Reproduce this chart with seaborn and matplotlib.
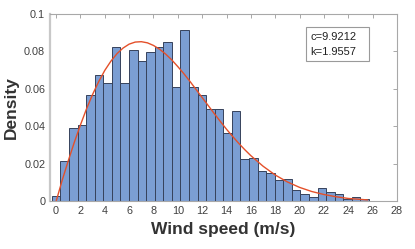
import numpy as np
import pandas as pd
import seaborn as sns
import matplotlib
matplotlib.use("Agg")
import matplotlib.pyplot as plt
from matplotlib.patches import Rectangle

# ---- data ----
bin_start = -0.35
bin_width = 0.704
densities = [0.003, 0.0215, 0.039, 0.0409, 0.0567, 0.0676, 0.0631, 0.0824,
             0.0631, 0.0808, 0.0751, 0.0797, 0.0824, 0.085, 0.061, 0.0916,
             0.061, 0.0567, 0.0493, 0.0493, 0.0364, 0.0482, 0.0225, 0.0234,
             0.0161, 0.0151, 0.0113, 0.0122, 0.0061, 0.004, 0.0024, 0.0074,
             0.0049, 0.0038, 0.0015, 0.0022, 0.0012]

# fitted Weibull curve
curve_x = [0, 0.5, 1, 1.5, 2, 2.5, 3, 3.5, 4, 4.5, 5, 5.5, 6, 6.5, 7, 7.5, 8,
           8.5, 9, 9.5, 10, 10.5, 11, 11.5, 12, 12.5, 13, 13.5, 14, 14.5, 15,
           15.5, 16, 17, 18, 19, 20, 21, 22, 23, 24, 25, 25.6]
curve_y = [0.0, 0.0113, 0.0217, 0.0316, 0.0408, 0.0494, 0.0571, 0.0639,
           0.0699, 0.0748, 0.0788, 0.0818, 0.0839, 0.0850, 0.0852, 0.0846,
           0.0832, 0.0812, 0.0786, 0.0755, 0.0719, 0.0681, 0.0640, 0.0597,
           0.0554, 0.0511, 0.0468, 0.0426, 0.0385, 0.0347, 0.0310, 0.0276,
           0.0244, 0.0188, 0.0141, 0.0104, 0.0075, 0.0053, 0.0037, 0.0025,
           0.0016, 0.0011, 0.0008]

annot_lines = ["c=9.9212", "k=1.9557"]
x_ticks = list(range(0, 29, 2))
y_ticks = [0, 0.02, 0.04, 0.06, 0.08, 0.1]
y_tick_labels = ["0", "0.02", "0.04", "0.06", "0.08", "0.1"]

# ---- build table ----
n = len(densities)
edges = [bin_start + bin_width * i for i in range(n + 1)]
centers = [(edges[i] + edges[i + 1]) / 2 for i in range(n)]
df = pd.DataFrame({"speed": centers, "density": densities})
curve_df = pd.DataFrame({"x": curve_x, "y": curve_y})

sns.set_style("white")
plt.rcParams["font.family"] = ["Liberation Sans", "DejaVu Sans"]

fig = plt.figure(figsize=(4.15, 2.49), dpi=100)
ax = fig.add_axes([0.1205, 0.191, 0.836, 0.753])

sns.histplot(data=df, x="speed", weights="density", bins=edges, stat="count",
             color="#7b9ed3", alpha=1.0, edgecolor="#36425c", linewidth=0.7,
             ax=ax)
sns.lineplot(data=curve_df, x="x", y="y", color="#e4502a", linewidth=1.0,
             ax=ax)

ax.set_xlim(-0.5, 28)
ax.set_ylim(0, 0.1)
ax.set_xticks(x_ticks)
ax.set_xticklabels([str(t) for t in x_ticks])
ax.set_yticks(y_ticks)
ax.set_yticklabels(y_tick_labels)
ax.tick_params(direction="in", length=3, width=0.6, colors="#9a9a9a",
               labelcolor="#404040", labelsize=7.8, top=True, right=True,
               pad=3.5)
for s in ax.spines.values():
    s.set_color("#a8a8a8")
    s.set_linewidth(0.8)
ax.spines["left"].set_color("#c8c8c8")
ax.spines["left"].set_linewidth(1.6)

ax.set_xlabel("Wind speed (m/s)", fontsize=12.5, fontweight="bold",
              color="#333333", labelpad=4)
ax.set_ylabel("Density", fontsize=12.5, fontweight="bold", color="#333333",
              labelpad=4)

# annotation box
ax.add_patch(Rectangle((0.738, 0.749), 0.181, 0.182, transform=ax.transAxes,
                       facecolor="white", edgecolor="#9a9a9a", linewidth=0.8,
                       zorder=5))
ax.text(0.750, 0.876, annot_lines[0], transform=ax.transAxes, fontsize=8,
        color="#222222", va="center", ha="left", zorder=6)
ax.text(0.750, 0.797, annot_lines[1], transform=ax.transAxes, fontsize=8,
        color="#222222", va="center", ha="left", zorder=6)

fig.savefig("out.png", dpi=100)
